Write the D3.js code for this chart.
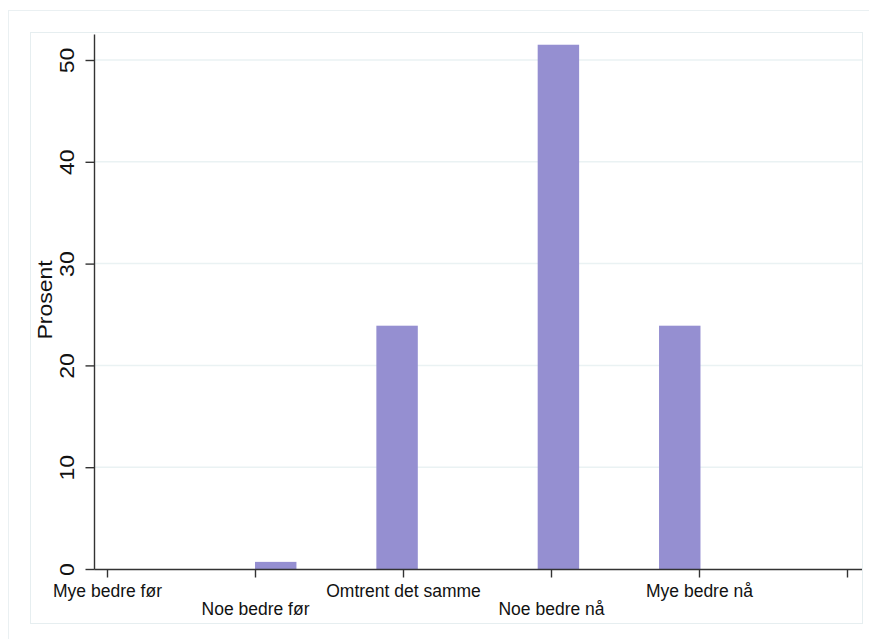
<!DOCTYPE html>
<html><head><meta charset="utf-8">
<script src="https://cdn.jsdelivr.net/npm/d3@7"></script>
<style>body{margin:0;background:#fff}svg{display:block;font-family:"Liberation Sans",Arial,sans-serif}</style>
</head><body>
<svg id="c" width="869" height="639"></svg>
<script>
const categories = ["Mye bedre før","Noe bedre før","Omtrent det samme","Noe bedre nå","Mye bedre nå",""];
const tickValues = [1,2,3,4,5,6];
const binStart = [2.0, 2.82, 3.91, 4.73];
const binEnd = [2.28, 3.10, 4.19, 5.01];
const percent = [0.7, 23.9, 51.5, 23.9];
const yTicks = [0,10,20,30,40,50];

const svg = d3.select("#c");
// outer and inner frames
svg.append("rect").attr("x",8.5).attr("y",10.5).attr("width",870).attr("height",640).attr("fill","none").attr("stroke","#eaf0f2");
svg.append("rect").attr("x",30.5).attr("y",32.5).attr("width",832).attr("height",591).attr("fill","none").attr("stroke","#e6eef0");

const x = d3.scaleLinear().domain([1 - 12/148, 1 + 755/148]).range([95, 862]);
const y = d3.scaleLinear().domain([0, 50]).range([569, 60]);

// grid
svg.append("g").selectAll("line").data(yTicks.filter(d=>d>0)).join("line")
  .attr("x1",95).attr("x2",862).attr("y1",d=>y(d)).attr("y2",d=>y(d))
  .attr("stroke","#eaf2f3").attr("stroke-width",1.5);

// bars
svg.append("g").selectAll("rect").data(percent).join("rect")
  .attr("x",(d,i)=>x(binStart[i])).attr("width",(d,i)=>x(binEnd[i])-x(binStart[i]))
  .attr("y",d=>y(d)).attr("height",d=>y(0)-y(d))
  .attr("fill","#958fd1");

// y axis
const ya = svg.append("g").attr("transform","translate(94.5,0)")
  .call(d3.axisLeft(y).tickValues(yTicks).tickSize(9).tickFormat(d3.format("d")));
ya.select(".domain").attr("d","M0,"+(y(52.5))+"V"+(y(0)+0.5)).attr("stroke","#333").attr("stroke-width",1.4);
ya.selectAll(".tick line").attr("stroke","#333").attr("stroke-width",1.4);
ya.selectAll(".tick text").attr("font-size",19.5).attr("fill","#111")
  .attr("transform","rotate(-90) scale(1.18,1)").attr("x",0).attr("y",-20.5).attr("dy",0).attr("text-anchor","middle");

// x axis
const xa = svg.append("g").attr("transform","translate(0,569.5)")
  .call(d3.axisBottom(x).tickValues(tickValues).tickSize(8).tickFormat((d,i)=>categories[i]));
xa.select(".domain").attr("d","M94.5,0H862").attr("stroke","#333").attr("stroke-width",1.6);
xa.selectAll(".tick line").attr("stroke","#333").attr("stroke-width",1.4);
xa.selectAll(".tick text").attr("font-size",17.5).attr("fill","#111")
  .attr("y",(d,i)=> i%2===0 ? 27.5 : 45.5).attr("dy",0);

svg.append("text").attr("transform","translate(51.5,300) rotate(-90) scale(1.18,1)").attr("text-anchor","middle")
  .attr("font-size",19.5).attr("fill","#111").text("Prosent");
</script>
</body></html>
